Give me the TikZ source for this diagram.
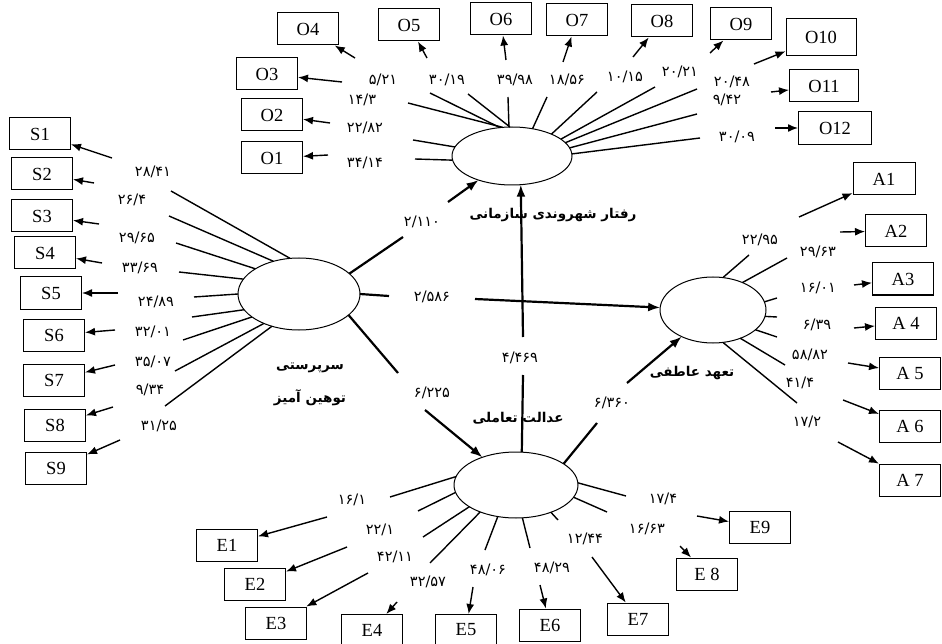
\documentclass[tikz,border=0pt]{standalone}
\usepackage{fontspec}
\usetikzlibrary{shapes.geometric,arrows.meta}
\TeXXeTstate=1
\newfontfamily\arabicfont[Script=Arabic]{DejaVu Sans}
\newfontfamily\boxserif{Liberation Serif}
\newcommand\myboxfont{\boxserif\fontsize{18.5}{20}\selectfont}
\newcommand\mynumfont{\arabicfont\fontsize{14.5}{16}\selectfont}
\newcommand\mypersfont{\arabicfont\bfseries\fontsize{13.5}{15}\selectfont}
\tikzset{
  box/.style={draw, line width=1pt, minimum width=61pt, minimum height=32pt, inner sep=0pt, font=\myboxfont},
  lat/.style={draw, ellipse, line width=1pt, inner sep=0pt, outer sep=0pt},
  ind/.style={line width=1.4pt},
  arr/.style={line width=1.4pt, -{Latex[length=10pt,width=8pt]}},
  sline/.style={line width=2.2pt},
  sarr/.style={line width=2.2pt, -{Latex[length=12pt,width=9pt]}},
  num/.style={font=\mynumfont, inner sep=1pt},
  pname/.style={font=\mypersfont, inner sep=1pt}
}
\begin{document}
\begin{tikzpicture}[x=1pt,y=-1pt]
\useasboundingbox (0,0) rectangle (942,644);
% latent variables
\node[lat, minimum width=120pt, minimum height=58pt] (ocb) at (512,156) {};
\node[lat, minimum width=122pt, minimum height=72pt] (abs) at (299,294) {};
\node[lat, minimum width=106pt, minimum height=66pt] (aff) at (713,310) {};
\node[lat, minimum width=124pt, minimum height=66pt] (ij) at (516,485) {};

% ---------------- O indicators
\node[box] (O1) at (272,158) {O1};
\node[box] (O2) at (272,115) {O2};
\node[box] (O3) at (267,74) {O3};
\node[box] (O4) at (308,29) {O4};
\node[box] (O5) at (409,25) {O5};
\node[box] (O6) at (501,19) {O6};
\node[box] (O7) at (577,20) {O7};
\node[box] (O8) at (662,21) {O8};
\node[box] (O9) at (741,24) {O9};
\node[box, minimum width=70pt, minimum height=37pt] (O10) at (821,37) {O10};
\node[box, minimum width=69pt] (O11) at (824,86) {O11};
\node[box, minimum width=73pt, minimum height=33pt] (O12) at (835,128) {O12};

\node[num] (nO1) at (365,163) {۳۴/۱۴};
\node[num] (nO2) at (365,128) {۲۲/۸۲};
\node[num] (nO3) at (362,100) {۱۴/۳};
\node[num] (nO4) at (383,80) {۵/۲۱};
\node[num] (nO5) at (447,80) {۳۰/۱۹};
\node[num] (nO6) at (515,80) {۳۹/۹۸};
\node[num] (nO7) at (567,80) {۱۸/۵۶};
\node[num] (nO8) at (625,77) {۱۰/۱۵};
\node[num] (nO9) at (680,72) {۲۰/۲۱};
\node[num] (nO10) at (732,82) {۲۰/۴۸};
\node[num] (nO11) at (727,100) {۹/۴۲};
\node[num] (nO12) at (737,137) {۳۰/۰۹};

\draw[ind] (ocb.184) -- (415,159) coordinate (eO1);
\draw[ind] (ocb.171) -- (413,140) coordinate (eO2);
\draw[ind] (ocb.108) -- (408,103) coordinate (eO3);
\draw[ind] (ocb.113) -- (430,93) coordinate (eO4);
\draw[ind] (ocb.94) -- (468,94) coordinate (eO5);
\draw[ind] (ocb.96) -- (508,97) coordinate (eO6);
\draw[ind] (ocb.53) -- (547,97) coordinate (eO7);
\draw[ind] (ocb.29) -- (597,92) coordinate (eO8);
\draw[ind] (ocb.19.5) -- (655,87) coordinate (eO9);
\draw[ind] (ocb.14) -- (697,89) coordinate (eO10);
\draw[ind] (ocb.8) -- (697,114) coordinate (eO11);
\draw[ind] (ocb.2) -- (700,138) coordinate (eO12);

\draw[arr] (328,155) coordinate (sO1) -- (O1);
\draw[arr] (330,123) coordinate (sO2) -- (O2);
\draw[arr] (342,82) coordinate (sO3) -- (O3);
\draw[arr] (355,58) coordinate (sO4) -- (O4);
\draw[arr] (427,58) coordinate (sO5) -- (O5);
\draw[arr] (506,60) coordinate (sO6) -- (O6);
\draw[arr] (563,62) coordinate (sO7) -- (O7);
\draw[arr] (633,57) coordinate (sO8) -- (O8);
\draw[arr] (710,53) coordinate (sO9) -- (O9);
\draw[arr] (754,64) coordinate (sO10) -- (O10);
\draw[arr] (771,92) coordinate (sO11) -- (O11);
\draw[arr] (775,128) coordinate (sO12) -- (O12);

% ---------------- S indicators
\node[box] (S1) at (40,134) {S1};
\node[box] (S2) at (42,174) {S2};
\node[box] (S3) at (42,216) {S3};
\node[box] (S4) at (45,253) {S4};
\node[box] (S5) at (51,293) {S5};
\node[box] (S6) at (54,335) {S6};
\node[box] (S7) at (54,380) {S7};
\node[box] (S8) at (55,425) {S8};
\node[box] (S9) at (56,468) {S9};

\node[num] (nS1) at (153,172) {۲۸/۴۱};
\node[num] (nS2) at (132,200) {۲۶/۴};
\node[num] (nS3) at (137,238) {۲۹/۶۵};
\node[num] (nS4) at (140,268) {۳۳/۶۹};
\node[num] (nS5) at (156,302) {۲۴/۸۹};
\node[num] (nS6) at (153,332) {۳۲/۰۱};
\node[num] (nS7) at (153,362) {۳۵/۰۷};
\node[num] (nS8) at (150,390) {۹/۳۴};
\node[num] (nS9) at (159,426) {۳۱/۲۵};

\draw[ind] (abs.104) -- (171,191) coordinate (eS1);
\draw[ind] (abs.128) -- (169,216) coordinate (eS2);
\draw[ind] (abs.150) -- (176,243) coordinate (eS3);
\draw[ind] (abs.165) -- (179,272) coordinate (eS4);
\draw[ind] (abs.180) -- (194,297) coordinate (eS5);
\draw[ind] (abs.196) -- (192,317) coordinate (eS6);
\draw[ind] (abs.206) -- (183,340) coordinate (eS7);
\draw[ind] (abs.220) -- (175,371) coordinate (eS8);
\draw[ind] (abs.230) -- (165,406) coordinate (eS9);

\draw[arr] (112,158) coordinate (sS1) -- (S1);
\draw[arr] (94,183) coordinate (sS2) -- (S2);
\draw[arr] (99,224) coordinate (sS3) -- (S3);
\draw[arr] (102,263) coordinate (sS4) -- (S4);
\draw[arr] (118,293) coordinate (sS5) -- (S5);
\draw[arr] (115,330) coordinate (sS6) -- (S6);
\draw[arr] (115,365) coordinate (sS7) -- (S7);
\draw[arr] (113,407) coordinate (sS8) -- (S8);
\draw[arr] (120,440) coordinate (sS9) -- (S9);

% ---------------- A indicators
\node[box, minimum width=62pt] (A1) at (884,179) {A1};
\node[box] (A2) at (896,231) {A2};
\node[box] (A3) at (903,279) {A3};
\node[box] (A4) at (906,323) {A 4};
\node[box] (A5) at (910,373) {A 5};
\node[box] (A6) at (910,426) {A 6};
\node[box] (A7) at (910,480) {A 7};

\node[num] (nA1) at (760,240) {۲۲/۹۵};
\node[num] (nA2) at (818,252) {۲۹/۶۳};
\node[num] (nA3) at (818,288) {۱۶/۰۱};
\node[num] (nA4) at (817,325) {۶/۳۹};
\node[num] (nA5) at (810,355) {۵۸/۸۲};
\node[num] (nA6) at (800,383) {۴۱/۴};
\node[num] (nA7) at (807,422) {۱۷/۲};

\draw[ind] (aff.73) -- (749,255) coordinate (eA1);
\draw[ind] (aff.43) -- (787,258) coordinate (eA2);
\draw[ind] (aff.9) -- (777,298) coordinate (eA3);
\draw[ind] (aff.-7) -- (777,317) coordinate (eA4);
\draw[ind] (aff.-25) -- (777,337) coordinate (eA5);
\draw[ind] (aff.-46) -- (785,365) coordinate (eA6);
\draw[ind] (aff.-73) -- (797,403) coordinate (eA7);

\draw[arr] (799,217) coordinate (sA1) -- (A1);
\draw[arr] (840,232) coordinate (sA2) -- (A2);
\draw[arr] (854,285) coordinate (sA3) -- (A3);
\draw[arr] (854,328) coordinate (sA4) -- (A4);
\draw[arr] (848,363) coordinate (sA5) -- (A5);
\draw[arr] (843,400) coordinate (sA6) -- (A6);
\draw[arr] (838,442) coordinate (sA7) -- (A7);

% ---------------- E indicators
\node[box] (E1) at (227,545) {E1};
\node[box] (E2) at (255,584) {E2};
\node[box] (E3) at (276,623) {E3};
\node[box, minimum height=31pt] (E4) at (372,630) {E4};
\node[box, minimum height=31pt] (E5) at (466,630) {E5};
\node[box] (E6) at (550,625) {E6};
\node[box] (E7) at (638,619) {E7};
\node[box] (E8) at (707,574) {E 8};
\node[box] (E9) at (760,527) {E9};

\node[num] (nE1) at (352,500) {۱۶/۱};
\node[num] (nE2) at (380,530) {۲۲/۱};
\node[num] (nE3) at (395,557) {۴۲/۱۱};
\node[num] (nE4) at (428,582) {۳۲/۵۷};
\node[num] (nE5) at (488,570) {۴۸/۰۶};
\node[num] (nE6) at (552,568) {۴۸/۲۹};
\node[num] (nE7) at (585,539) {۱۲/۴۴};
\node[num] (nE8) at (647,529) {۱۶/۶۳};
\node[num] (nE9) at (663,499) {۱۷/۴};

\draw[ind] (ij.172.5) -- (390,497) coordinate (eE1);
\draw[ind] (ij.187.5) -- (418,511) coordinate (eE2);
\draw[ind] (ij.205) -- (423,537) coordinate (eE3);
\draw[ind] (ij.217) -- (430,563) coordinate (eE4);
\draw[ind] (ij.240) -- (485,550) coordinate (eE5);
\draw[ind] (ij.281) -- (530,548) coordinate (eE6);
\draw[ind] (ij.322) -- (558,520) coordinate (eE7);
\draw[ind] (ij.348.5) -- (607,512) coordinate (eE8);
\draw[ind] (ij.2) -- (626,496) coordinate (eE9);

\draw[arr] (327,517) coordinate (sE1) -- (E1);
\draw[arr] (347,547) coordinate (sE2) -- (E2);
\draw[arr] (368,573) coordinate (sE3) -- (E3);
\draw[arr] (397,602) coordinate (sE4) -- (E4);
\draw[arr] (473,587) coordinate (sE5) -- (E5);
\draw[arr] (540,585) coordinate (sE6) -- (E6);
\draw[arr] (592,557) coordinate (sE7) -- (E7);
\draw[arr] (680,546) coordinate (sE8) -- (E8);
\draw[arr] (697,516) coordinate (sE9) -- (E9);

% ---------------- structural paths
\draw[sline] (abs.22) -- (403,237) coordinate (e1);
\draw[sarr] (448,202) coordinate (s1) -- (ocb);
\node[num] (p1) at (422,222) {۲/۱۱۰};

\draw[sline] (abs.0) -- (389,296) coordinate (e2);
\draw[sarr] (475,299) coordinate (s2) -- (aff);
\node[num] (p2) at (432,297) {۲/۵۸۶};

\draw[sline] (abs.-23) -- (398,373) coordinate (e3);
\draw[sarr] (425,410) coordinate (s3) -- (ij);
\node[num] (p3) at (432,393) {۶/۲۲۵};

\draw[sline] (ij.80) -- (523,375) coordinate (e4);
\draw[sarr] (523,337) coordinate (s4) -- (ocb.-73);
\node[num] (p4) at (520,358) {۴/۴۶۹};

\draw[sline] (ij.24) -- (597,423) coordinate (e5);
\draw[sarr] (627,383) coordinate (s5) -- (aff);
\node[num] (p5) at (612,403) {۶/۳۶۰};

% ---------------- latent names
\node[pname] (tocb) at (553,215) {\beginR رفتار شهروندی سازمانی\endR};
\node[pname] (tabs1) at (310,368) {\beginR سرپرستی\endR};
\node[pname] (tabs2) at (310,398) {\beginR توهین آمیز\endR};
\node[pname] (taff) at (692,373) {\beginR تعهد عاطفی\endR};
\node[pname] (tij) at (518,418) {\beginR عدالت تعاملی\endR};
\end{tikzpicture}
\end{document}
